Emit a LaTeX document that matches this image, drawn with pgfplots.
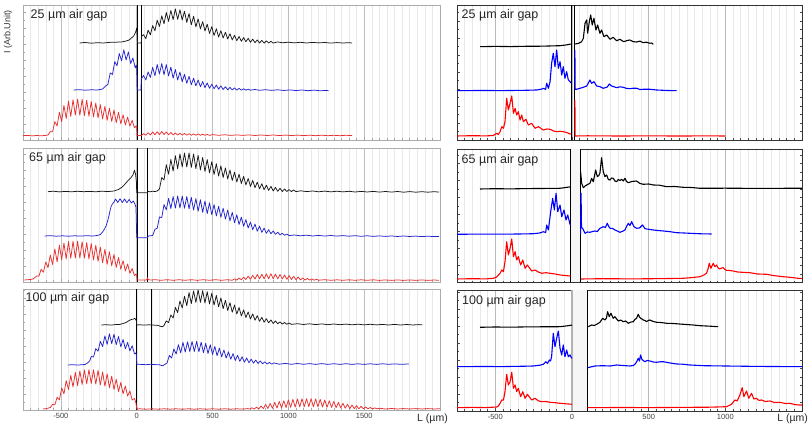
\documentclass[border=0pt]{standalone}
\usepackage{fontspec}
\setmainfont{Liberation Sans}
\usepackage{pgfplots}
\pgfplotsset{compat=1.18}

\definecolor{lred}{RGB}{232,48,48}
\definecolor{lblue}{RGB}{35,35,205}
\definecolor{rred}{RGB}{255,0,0}
\definecolor{rblue}{RGB}{0,0,255}
\newcommand\ticksz{\fontsize{7.5}{9}\selectfont}
\newcommand\gapsz{\fontsize{12.5}{14}\selectfont}

\pgfplotsset{
  lp/.style={scale only axis, width=417pt, xmin=-750, xmax=2000, ymin=0,
    xtick={-500,0,500,1000,1500}, minor xtick={-700,-650,...,1950},
    xmajorgrids, xminorgrids,
    major grid style={gray!50, line width=0.5pt},
    minor grid style={gray!18, line width=0.4pt},
    axis line style={gray!65, line width=0.7pt},
    tick style={gray!70, line width=0.4pt},
    major tick length=2.5pt, minor tick length=1.8pt,
    xtick pos=bottom, ytick pos=left, ytick distance=16, minor y tick num=1,
    xticklabels={}, yticklabels={},
    tick label style={font=\ticksz, text=black!75}},
  rp/.style={scale only axis, width=345pt, xmin=-750, xmax=1500, ymin=0,
    xtick={-500,0,500,1000}, minor xtick={-700,-650,...,1450},
    xmajorgrids, xminorgrids, unbounded coords=jump,
    major grid style={gray!55, line width=1pt},
    minor grid style={gray!18, line width=0.5pt},
    axis line style={black!80, line width=0.9pt},
    tick style={black!70, line width=0.4pt},
    major tick length=2.5pt, minor tick length=1.8pt,
    xtick pos=bottom, ytick pos=both, ytick distance=17, minor y tick num=1,
    xticklabels={}, yticklabels={},
    tick label style={font=\ticksz, text=black!75}},
  lk/.style={black!90, line width=0.75pt, no markers, line join=round},
  lb/.style={lblue, line width=0.75pt, no markers, line join=round},
  lr/.style={lred, line width=0.75pt, no markers, line join=round},
  rk/.style={black, line width=1.1pt, no markers, line join=round},
  rb/.style={rblue, line width=1.1pt, no markers, line join=round},
  rr/.style={rred, line width=1.1pt, no markers, line join=round},
}

\begin{document}
\begin{tikzpicture}
\useasboundingbox (0,0) rectangle (809pt,427pt);

% ---------------- left column ----------------
\begin{axis}[lp, at={(23pt,287pt)}, anchor=south west, height=135pt, ymax=135]
\draw[black, line width=0.8pt] (axis cs:2,0) -- (axis cs:2,135);
\draw[black, line width=0.8pt] (axis cs:32,0) -- (axis cs:32,135);
\addplot[lk] coordinates {(-377,97)(-340,97.5)(-300,96.8)(-260,97.3)(-220,97)(-180,97.6)(-140,97.8)(-100,98)(-70,99)(-50,100)(-35,102)(-20,104)(-10,107)(-3,110)(0,112)(3,104)(5,97)(30,97)(33,104)(45,105.3)(60,101.3)(75,109.8)(90,105.2)(105,114.4)(120,109.3)(135,119.8)(150,113.5)(165,124.2)(180,116.2)(195,127.5)(210,118.6)(225,129.5)(240,120.4)(255,131)(270,120.6)(285,130.3)(300,120)(315,128.8)(330,117.6)(345,126.4)(360,115.3)(375,123.75)(390,113.2)(405,121.1)(420,111.1)(435,118.35)(450,109)(465,115.8)(480,106.6)(495,113.4)(510,104.5)(525,111.25)(540,103)(555,109.25)(570,101.9)(585,107.75)(600,101)(615,106.25)(630,100.1)(645,104.75)(660,99.3)(675,103.5)(690,98.7)(705,102.4)(720,98.2)(735,101.65)(750,97.7)(765,100.9)(780,97.3)(795,100.1)(810,96.95)(825,99.6)(840,96.85)(855,99.15)(870,96.9)(885,98.7)(900,96.9)(930,98.1)(960,97.2)(1000,97.8)(1040,97.1)(1080,97.7)(1120,97.0)(1160,97.6)(1200,97.1)(1240,97.5)(1280,96.9)(1320,97.4)(1360,97.0)(1400,97.3)(1420,97)};
\addplot[lb] coordinates {(-416,50)(-380,50.3)(-340,49.8)(-300,50.2)(-260,50)(-240,50.5)(-225,51)(-215,52.5)(-205,54)(-190,55.5)(-175,67)(-160,65.5)(-145,78.3)(-130,74.2)(-115,86.4)(-100,79.2)(-85,90.2)(-70,80)(-55,88.1)(-40,76.5)(-25,82)(-10,72)(-3,75)(0,72)(3,50)(28,50)(30,61)(45,64.5)(60,60)(75,68)(90,62.6)(105,72.6)(120,64.2)(135,75.5)(150,66)(165,76.4)(180,65.2)(195,75.4)(210,64.1)(225,72.9)(240,61.8)(255,70.45)(270,60)(285,67.95)(300,58.2)(315,65.75)(330,56.7)(345,63.65)(360,55.3)(375,61.7)(390,54.2)(405,59.95)(420,53.2)(435,58.45)(450,52.3)(465,57.05)(480,51.7)(495,55.85)(510,51.2)(525,55)(540,50.8)(555,54.15)(570,50.5)(585,53.25)(600,50.2)(615,52.55)(630,50.1)(645,52)(660,49.95)(675,51.6)(690,49.85)(705,51.2)(720,49.8)(735,50.9)(750,49.8)(780,50.5)(810,49.7)(850,50.3)(890,49.6)(930,50.2)(970,49.5)(1010,50.1)(1050,49.4)(1090,50)(1130,49.3)(1170,49.9)(1210,49.2)(1250,49.6)(1266,49.3)};
\addplot[lr] coordinates {(-752,4.3)(-720,4.6)(-690,4.1)(-660,4.5)(-630,4.2)(-600,4.6)(-585,5)(-570,8.4)(-555,8.2)(-540,18.4)(-525,14)(-510,27.7)(-495,18.3)(-480,34.55)(-465,21.5)(-450,39)(-435,23.6)(-420,40.2)(-405,24.9)(-390,40.9)(-375,24.75)(-360,40.6)(-345,24.4)(-330,39.7)(-315,23.8)(-300,38.5)(-285,23.05)(-270,37)(-255,22.15)(-240,35.4)(-225,21)(-210,33.6)(-195,19.8)(-180,31.8)(-165,18.6)(-150,30)(-135,17.4)(-120,27.6)(-105,16.2)(-90,25.2)(-75,15)(-60,22.8)(-45,13.8)(-30,19.6)(-15,12.2)(-3,14)(0,13)(2,4.3)(30,4.5)(45,6.3)(60,4.8)(75,7.3)(90,5)(105,8.05)(120,5.2)(135,8.3)(150,5.4)(165,8.5)(180,5.45)(195,8.05)(210,5.25)(225,7.45)(240,5.05)(255,7)(270,4.95)(285,6.7)(300,4.85)(315,6.55)(330,4.8)(345,6.3)(360,4.7)(375,6.15)(390,4.75)(405,6)(420,4.7)(435,5.8)(450,4.6)(465,5.6)(480,4.6)(500,5.4)(540,4.7)(580,5.2)(620,4.6)(660,5.1)(700,4.6)(740,5.1)(780,4.5)(820,5)(860,4.5)(900,5)(940,4.4)(980,4.9)(1020,4.4)(1060,4.9)(1100,4.4)(1140,4.8)(1180,4.3)(1220,4.8)(1260,4.3)(1300,4.7)(1340,4.3)(1380,4.7)(1420,4.4)};
\end{axis}

\begin{axis}[lp, at={(23pt,145pt)}, anchor=south west, height=133.5pt, ymax=133.5]
\draw[black, line width=0.8pt] (axis cs:2,0) -- (axis cs:2,133.5);
\draw[black, line width=0.8pt] (axis cs:70,0) -- (axis cs:70,133.5);
\addplot[lk] coordinates {(-586,90.3)(-550,90.8)(-510,90.1)(-470,90.6)(-430,90.2)(-390,90.7)(-350,90.3)(-310,90.6)(-270,90.2)(-230,90.8)(-190,90.4)(-150,91)(-120,92.5)(-100,94.5)(-80,97.5)(-60,101)(-40,104)(-25,107)(-15,111.7)(-8,108)(-2,100)(0,89.3)(70,89.3)(75,90.5)(90,90.2)(105,90.8)(120,90.4)(135,91)(150,93)(165,104.5)(180,102)(195,117.3)(210,107.8)(225,122.5)(240,111)(255,126.3)(270,113.2)(285,128.1)(300,115)(315,129)(330,115)(345,129)(360,114.6)(375,128)(390,113.4)(405,126.65)(420,112)(435,124.55)(450,110.5)(465,122.45)(480,109)(495,120.35)(510,107.5)(525,118.25)(540,106)(555,116.15)(570,104.5)(585,114.05)(600,103)(615,111.95)(630,101.5)(645,109.85)(660,100)(675,107.75)(690,98.5)(705,105.65)(720,97)(735,103.55)(750,95.5)(765,101.6)(780,94.3)(795,99.8)(810,93.2)(825,98.25)(840,92.3)(855,96.8)(870,91.6)(885,95.6)(900,91)(915,94.55)(930,90.7)(945,93.65)(960,90.5)(975,93)(990,90.5)(1005,92.45)(1020,90.4)(1035,91.95)(1050,90.3)(1080,91.2)(1120,90.4)(1160,91)(1200,90.2)(1240,90.9)(1280,90.1)(1320,90.8)(1360,90.1)(1400,90.7)(1440,90)(1480,90.6)(1520,90)(1560,90.6)(1600,89.9)(1640,90.5)(1680,89.9)(1720,90.5)(1760,89.8)(1800,90.4)(1840,89.8)(1880,90.3)(1920,89.8)(1960,90.3)(1994,89.9)};
\addplot[lb] coordinates {(-608,46)(-570,46.3)(-530,45.8)(-490,46.2)(-450,45.8)(-410,46.2)(-370,45.9)(-330,46.3)(-290,46)(-260,46.5)(-240,47.5)(-225,50)(-212,53)(-200,57)(-190,62)(-182,67)(-175,72)(-168,76)(-160,78)(-150,80)(-140,83)(-125,79.5)(-110,83.2)(-95,79.5)(-80,83)(-65,79.3)(-50,82.5)(-35,79)(-22,81)(-12,78)(-5,75)(0,44.3)(72,44.3)(75,46)(90,46.2)(105,46.5)(120,52.7)(135,53.7)(150,65)(165,64.4)(180,77.4)(195,72.2)(210,83.6)(225,73.5)(240,85.4)(255,74)(270,86)(285,74)(300,86)(315,73.7)(330,85.4)(345,73.1)(360,84.6)(375,72)(390,83.4)(405,70.8)(420,82.2)(435,69.6)(450,81)(465,68.4)(480,79.2)(495,67.2)(510,77.4)(525,66)(540,75.6)(555,64.7)(570,73.8)(585,62.9)(600,72)(615,61.1)(630,69.6)(645,59.3)(660,67.2)(675,57.5)(690,64.8)(705,55.7)(720,62.4)(735,53.9)(750,60)(765,52.25)(780,57.9)(795,50.75)(810,55.85)(825,49.6)(840,53.95)(855,48.65)(870,52.4)(885,48.2)(900,51)(915,47.7)(930,49.8)(945,47.1)(960,48.7)(975,46.7)(990,47.9)(1005,46.4)(1040,47)(1080,46.2)(1120,46.8)(1160,46)(1200,46.6)(1240,45.9)(1280,46.5)(1320,45.9)(1360,46.4)(1400,45.8)(1440,46.3)(1480,45.7)(1520,46.2)(1560,45.6)(1600,46.1)(1640,45.6)(1680,46)(1720,45.5)(1760,46)(1800,45.5)(1840,45.9)(1880,45.4)(1920,45.8)(1960,45.4)(1994,45.6)};
\addplot[lr] coordinates {(-741,2)(-720,2.3)(-700,2.5)(-685,3)(-675,4)(-660,6)(-645,5.85)(-630,12.7)(-615,9.75)(-600,20)(-585,14.25)(-570,27)(-555,17.5)(-540,33)(-525,20.1)(-510,36.8)(-495,22.2)(-480,39)(-465,23.05)(-450,40.5)(-435,23.65)(-420,40.8)(-405,23.95)(-390,40.8)(-375,24)(-360,40.2)(-345,23.85)(-330,39.4)(-315,22.95)(-300,38.5)(-285,21.9)(-270,36.7)(-255,20.7)(-240,34.8)(-225,19.25)(-210,32.7)(-195,17.75)(-180,30.2)(-165,16.25)(-150,27.5)(-135,14.6)(-120,24.5)(-105,12.8)(-90,21.35)(-75,10.9)(-60,18)(-45,8.75)(-30,13.5)(-15,6.25)(-5,8)(0,7)(2,2)(65,2)(70,4.3)(75,2.5)(90,2)(120,2.3)(160,1.7)(200,2.3)(240,1.7)(280,2.3)(320,1.7)(360,2.3)(400,1.7)(440,2.3)(480,1.7)(520,2.3)(560,1.7)(600,2.3)(630,1.7)(645,3.15)(660,1.9)(675,3.95)(690,2.2)(705,4.85)(720,2.45)(735,5.8)(750,2.7)(765,6.65)(780,2.95)(795,7.45)(810,3.15)(825,7.8)(840,3.2)(855,8.15)(870,3.25)(885,8.3)(900,3.25)(915,7.9)(930,3.15)(945,7.55)(960,3)(975,7)(990,2.65)(1005,6.4)(1020,2.45)(1035,5.65)(1050,2.3)(1065,4.9)(1080,2.1)(1095,4.1)(1110,1.95)(1125,3.6)(1140,1.85)(1155,3.1)(1170,1.8)(1185,2.7)(1200,1.8)(1240,2.3)(1280,1.7)(1320,2.2)(1360,1.7)(1400,2.2)(1440,1.7)(1480,2.2)(1520,1.7)(1560,2.2)(1600,1.6)(1640,2.1)(1680,1.6)(1720,2.1)(1760,1.6)(1800,2.1)(1840,1.6)(1880,2.1)(1920,1.6)(1960,2)(1994,1.7)};
\end{axis}

\begin{axis}[lp, at={(23pt,17pt)}, anchor=south west, height=121pt, ymax=121,
  xticklabels={-500,0,500,1000,1500}]
\draw[black, line width=0.8pt] (axis cs:0,0) -- (axis cs:0,121);
\draw[black, line width=0.8pt] (axis cs:100,0) -- (axis cs:100,121);
\addplot[lk] coordinates {(-233,85)(-200,85.3)(-170,84.9)(-140,85.4)(-110,85.6)(-90,86.5)(-70,87.5)(-50,89.5)(-35,90.5)(-20,91)(-13,91.7)(-7,90.5)(-2,89)(0,85)(20,85.2)(50,84.9)(80,85.2)(110,84.9)(140,84.6)(160,83.5)(170,83.3)(180,84.5)(195,89)(210,87.4)(225,95)(240,92)(255,102.6)(270,97.45)(285,109)(300,102)(315,113.8)(330,104.4)(345,117.4)(360,106.4)(375,119)(390,107.6)(405,120)(420,107.6)(435,119.3)(450,107)(465,118.25)(480,106.1)(495,116.75)(510,104.9)(525,114.5)(540,103.1)(555,112.1)(570,101.3)(585,109.7)(600,99.5)(615,107.3)(630,97.7)(645,104.9)(660,95.9)(675,102.5)(690,94.1)(705,100.15)(720,92.5)(735,98.05)(750,91)(765,96.1)(780,89.8)(795,94.3)(810,88.7)(825,92.75)(840,87.8)(855,91.3)(870,87.1)(885,90.1)(900,86.5)(915,89.05)(930,86.2)(945,88.15)(960,85.95)(975,87.5)(990,85.7)(1005,87)(1020,85.6)(1060,86.3)(1100,85.5)(1140,86.2)(1180,85.4)(1220,86.1)(1260,85.3)(1300,86)(1340,85.3)(1380,85.9)(1420,85.2)(1460,85.8)(1500,85.1)(1540,85.7)(1580,85.1)(1620,85.6)(1660,85)(1700,85.6)(1740,85)(1780,85.5)(1820,85)(1860,85.4)(1883,85.1)};
\addplot[lb] coordinates {(-454,45)(-420,45.3)(-390,44.9)(-360,45.3)(-340,45.5)(-325,47)(-310,49)(-300,53.5)(-285,53)(-270,61.4)(-255,58.8)(-240,68.7)(-225,63.4)(-210,74)(-195,65.7)(-180,76.2)(-165,66.3)(-150,75.8)(-135,65.2)(-120,73.5)(-105,63.2)(-90,70.5)(-75,61.2)(-60,67.5)(-45,59.1)(-30,64.2)(-15,56.2)(-6,57)(-2,55)(0,45.7)(30,45.6)(60,45.3)(90,45.7)(120,45.4)(150,45.2)(170,44.2)(185,45.5)(200,47)(215,54.5)(230,52)(245,61)(260,56)(275,65.3)(290,57.2)(305,67.6)(320,57.9)(335,68.2)(350,58.5)(365,68.5)(380,58.5)(395,68.5)(410,58.2)(425,67.8)(440,57.3)(455,66.75)(470,56.4)(485,65.25)(500,55.5)(515,63.6)(530,54.3)(545,61.8)(560,53.1)(575,60)(590,51.9)(605,58.2)(620,50.7)(635,56.4)(650,49.5)(665,54.75)(680,48.6)(695,53.2)(710,47.8)(725,52)(740,47.2)(755,50.85)(770,46.8)(785,49.95)(800,46.5)(815,49.05)(830,46.2)(845,48.15)(860,45.95)(875,47.6)(890,45.85)(905,47.1)(940,45.8)(980,46.6)(1020,45.7)(1060,46.5)(1100,45.7)(1140,46.4)(1180,45.6)(1220,46.4)(1260,45.6)(1300,46.3)(1340,45.6)(1380,46.3)(1420,45.6)(1460,46.2)(1500,45.6)(1540,46.2)(1580,45.6)(1620,46.2)(1660,45.7)(1700,46.1)(1740,45.7)(1795,46)};
\addplot[lr] coordinates {(-619,1)(-600,1.3)(-585,1.8)(-570,2.5)(-555,5.7)(-540,5.2)(-525,12.7)(-510,10.2)(-495,21.95)(-480,16.2)(-465,29.35)(-450,20.5)(-435,34.6)(-420,23)(-405,37.75)(-390,24.4)(-375,39)(-360,25.6)(-345,40.05)(-330,26.2)(-315,40.35)(-300,26.5)(-285,40.2)(-270,25.9)(-255,39.6)(-240,25.1)(-225,38)(-210,23.9)(-195,36.1)(-180,22.3)(-165,33.7)(-150,20.5)(-135,30.85)(-120,18.4)(-105,27.55)(-90,16.25)(-75,23.9)(-60,14)(-45,19)(-30,10)(-15,11.5)(-5,7)(0,1)(20,1.2)(60,0.8)(100,1.2)(140,0.8)(180,1.2)(220,0.8)(260,1.2)(300,0.8)(340,1.2)(380,0.8)(420,1.2)(460,0.8)(500,1.2)(540,0.8)(580,1.2)(620,0.8)(660,1.2)(700,0.9)(730,1.4)(745,0.95)(760,2.2)(775,1)(790,2.8)(805,1.05)(820,4)(835,1.35)(850,5.5)(865,1.55)(880,6.6)(895,1.7)(910,7.6)(925,1.95)(940,8.5)(955,2.25)(970,9.25)(985,2.45)(1000,10)(1015,2.7)(1030,10.6)(1045,2.95)(1060,11.05)(1075,3.15)(1090,11.25)(1105,3.3)(1120,11.3)(1135,3.3)(1150,11.3)(1165,3.25)(1180,11)(1195,3.2)(1210,10.6)(1225,3)(1240,10)(1255,2.75)(1270,9.25)(1285,2.6)(1300,8.5)(1315,2.35)(1330,7.6)(1345,2.05)(1360,6.7)(1375,1.75)(1390,5.8)(1405,1.45)(1420,5)(1435,1.35)(1450,4.3)(1465,1.25)(1480,3.65)(1495,1.2)(1510,3)(1525,1.15)(1540,2.5)(1555,1.1)(1570,2.1)(1585,1.1)(1600,1.8)(1640,1)(1680,1.5)(1720,1)(1760,1.4)(1800,1)(1840,1.4)(1880,1)(1920,1.4)(1960,1)(2000,1.3)};
\end{axis}

% ---------------- right column ----------------
\begin{axis}[rp, at={(457pt,287pt)}, anchor=south west, height=135pt, ymax=135]
\draw[black, line width=0.9pt] (axis cs:-5,0) -- (axis cs:-5,135);
\draw[black, line width=0.9pt] (axis cs:18,0) -- (axis cs:18,135);
\addplot[rk] coordinates {(-600,93.3)(-500,93.6)(-400,93.4)(-300,93.7)(-200,93.8)(-78,94.3)(-40,95)(-17,95.7)(-8,95.9)(5,nan)(19,96)(40,96.5)(63,98.3)(74,101.7)(85,116.7)(96,120)(102,106.7)(113,118.3)(122,125)(132,115)(143,121.7)(156,110)(167,115)(182,106.7)(193,110)(208,103.3)(226,105)(248,100.7)(269,102.7)(291,99.3)(313,100.7)(334,98.5)(345,98.7)(360,99.5)(378,100)(400,98.3)(421,98)(443,98.8)(465,97.3)(485,97.8)(508,96.7)(520,97)(530,95.7)};
\addplot[rb] coordinates {(-752,49.3)(-600,49.5)(-450,49.4)(-300,49.7)(-230,50)(-200,50.8)(-187,51.7)(-172,50.6)(-165,56.7)(-154,51.7)(-143,58.3)(-133,76.7)(-122,86.7)(-111,73.3)(-100,90)(-89,71.7)(-78,78.3)(-67,65)(-57,73.3)(-46,61.7)(-35,68.3)(-24,60)(-13,58.3)(-6,57)(5,nan)(19,90)(20,50.7)(30,50.7)(74,52.7)(96,54)(117,60)(128,56.7)(143,58.3)(161,54)(182,53.3)(204,51.7)(230,53)(243,56)(258,54)(291,52.3)(313,53.2)(334,52.7)(356,51.6)(378,51.3)(400,51.8)(421,51.7)(443,50.5)(465,50.7)(508,50.7)(552,50)(620,49.5)(682,49.3)};
\addplot[rr] coordinates {(-752,4)(-650,4.3)(-560,4.1)(-513,4.5)(-491,6.7)(-480,5.5)(-469,8.3)(-458,13.3)(-447,11.7)(-437,18.3)(-426,41.7)(-415,30)(-404,36.7)(-393,44)(-382,26.7)(-371,31.7)(-361,25)(-350,28.3)(-339,20)(-328,25)(-317,18.3)(-300,20.7)(-285,15)(-263,16.7)(-241,11.7)(-219,13.3)(-187,10)(-165,11)(-143,10.7)(-120,9)(-100,8.3)(-78,8.7)(-57,8.3)(-35,7.5)(-13,6)(-6,6.2)(5,nan)(19,40)(20,4)(100,4.2)(300,4)(500,4.1)(700,4)(900,4.1)(1000,4)};
\end{axis}

\begin{axis}[rp, at={(457pt,144.5pt)}, anchor=south west, height=133.5pt, ymax=133.5]
\fill[gray!7] (axis cs:-8,0) rectangle (axis cs:56,133.5);
\draw[black, line width=0.9pt] (axis cs:-8,0) -- (axis cs:-8,133.5);
\draw[black, line width=0.9pt] (axis cs:56,0) -- (axis cs:56,133.5);
\addplot[rk] coordinates {(-600,93.5)(-500,93.8)(-400,93.6)(-300,93.9)(-200,94)(-78,94.2)(-40,95)(-17,95.5)(-10,95.8)(20,nan)(56,110.8)(63,99.2)(74,94.8)(85,96.5)(96,97.5)(117,99.2)(128,104.2)(139,100.8)(154,112.5)(165,105.8)(175,107)(182,109.2)(193,124.8)(204,110.8)(215,105.8)(226,107.5)(237,103)(248,102.5)(258,104.5)(269,104.2)(280,101.5)(291,100.8)(302,103)(313,102)(324,103.2)(335,101.5)(345,104.2)(356,101)(367,99.8)(390,101)(421,101.5)(443,99)(465,98.2)(500,98.5)(530,97.5)(570,97.3)(617,95.8)(670,96)(725,95.2)(780,95)(834,94.2)(1000,94.3)(1200,94.1)(1400,94.2)(1500,94.2)};
\addplot[rb] coordinates {(-752,48.2)(-600,48.4)(-450,48.3)(-300,48.6)(-252,48.8)(-210,49.5)(-187,50.8)(-172,50)(-165,57.5)(-154,52.5)(-139,70.8)(-126,84.2)(-115,72.5)(-104,89.2)(-93,70.8)(-78,77.5)(-67,65.8)(-52,72.5)(-39,62.5)(-28,67.5)(-13,58.2)(-10,57.5)(20,nan)(56,48)(59,89.2)(62,55)(69,54.2)(85,49.2)(100,50.5)(117,50.2)(135,51)(150,51.5)(165,51)(182,54.2)(204,55.8)(218,55)(230,59.2)(240,56)(248,54.2)(265,54)(280,52.5)(295,51.5)(313,50.2)(330,51.2)(345,52.5)(356,56)(367,59.2)(378,57)(389,60.8)(404,55.8)(421,54.2)(440,54.5)(460,57.5)(475,54)(486,53.5)(510,53)(530,52.5)(560,52)(595,51.5)(640,50.8)(682,49.8)(730,49.5)(769,49.2)(840,48.7)(910,48.5)};
\addplot[rr] coordinates {(-752,3.5)(-650,3.8)(-560,3.6)(-513,4.2)(-491,5.5)(-469,9.2)(-458,12.5)(-447,10.8)(-437,20.8)(-426,40.8)(-415,27.5)(-404,34.2)(-393,43.5)(-382,25.8)(-371,30.8)(-361,22.5)(-350,25.8)(-335,17.5)(-321,22.5)(-306,14.2)(-291,17.5)(-263,11.5)(-241,12.5)(-220,10.5)(-198,9.2)(-170,9.8)(-143,9.2)(-110,8.5)(-78,7.5)(-45,7)(-13,6.5)(-10,6.3)(20,nan)(59,3.5)(200,3.8)(400,3.6)(600,3.9)(725,4.2)(790,5)(834,5.8)(860,7.5)(877,9.2)(888,14)(895,19.2)(906,14.2)(914,17)(921,19.2)(932,15.8)(943,17.5)(953,14.5)(964,13.5)(975,14.5)(986,14.8)(997,13)(1008,12.2)(1030,12)(1051,11.5)(1080,10.5)(1110,10.2)(1160,9.8)(1210,8.5)(1268,8.2)(1320,6.8)(1377,5.8)(1420,5.2)(1475,4.2)(1500,4)};
\end{axis}

\begin{axis}[rp, at={(457pt,16pt)}, anchor=south west, height=121pt, ymax=121,
  xticklabels={-500,0,500,1000}]
\fill[gray!7] (axis cs:0,0) rectangle (axis cs:100,121);
\draw[gray!60, line width=1.2pt] (axis cs:0,0) -- (axis cs:0,121);
\draw[black, line width=0.9pt] (axis cs:100,0) -- (axis cs:100,121);
\addplot[rk] coordinates {(-600,83.7)(-500,84)(-400,83.8)(-300,84.1)(-200,84.2)(-78,84.3)(-40,85)(-10,85.6)(0,86)(50,nan)(106,84.3)(128,86)(145,85.5)(161,86.7)(182,88.7)(200,92.7)(215,91)(225,93)(232,99.3)(243,94.3)(254,97.7)(262,95)(269,92.7)(280,94.3)(291,92)(302,90)(318,91)(334,89.3)(350,90)(367,87.7)(385,89)(400,89.3)(410,91.5)(421,92.7)(432,96.7)(440,94)(447,92.7)(456,92)(465,91)(476,90.5)(486,89.3)(497,90.5)(508,91)(530,89.5)(552,88.7)(580,88.5)(617,87.7)(660,87.5)(700,87)(725,86.7)(790,86)(834,85.3)(900,84.8)(953,84.3)};
\addplot[rb] coordinates {(-752,44.3)(-600,44.5)(-450,44.4)(-300,44.8)(-252,45)(-210,45.8)(-187,46.7)(-170,49.3)(-160,47.5)(-148,51)(-140,50)(-133,54.3)(-122,77.7)(-111,64.3)(-100,72.7)(-89,80)(-78,62.7)(-67,56)(-57,66)(-46,54.3)(-35,61)(-24,54.3)(-13,56)(-5,53.5)(0,52.7)(50,nan)(102,43.3)(150,45)(200,45.3)(248,45)(291,46)(330,45.5)(378,45)(400,45.5)(410,46.7)(421,49)(432,52.7)(440,50)(447,56)(455,52)(460,51)(476,49.3)(490,50.5)(508,50)(530,49)(552,48.7)(575,49.2)(595,49.3)(640,48)(682,47)(720,46.8)(769,46)(856,45.3)(1000,45)(1200,44.6)(1500,44.3)};
\addplot[rr] coordinates {(-752,3.3)(-650,3.6)(-560,3.4)(-491,4)(-480,5)(-469,7.7)(-458,11)(-447,11)(-437,19.3)(-426,36.7)(-415,26)(-404,29.3)(-393,38.7)(-382,22.7)(-371,26)(-361,19.3)(-350,22.7)(-335,14.3)(-321,19.3)(-306,12.7)(-291,16.7)(-263,11)(-241,12.7)(-220,10.2)(-198,9.3)(-170,9.5)(-143,8.7)(-110,8.3)(-78,7.7)(-40,7.2)(0,6.7)(50,nan)(102,3.3)(300,3.5)(500,3.4)(700,3.6)(900,3.8)(1008,4.3)(1040,6.7)(1062,11)(1077,10)(1095,16)(1110,23.3)(1121,14.3)(1138,20)(1153,12.7)(1171,17.7)(1186,12)(1203,12.7)(1220,10.5)(1236,11)(1260,9.5)(1290,10)(1320,8.5)(1355,8.7)(1390,7.5)(1421,7.7)(1450,6.5)(1480,6)(1500,6)};
\end{axis}

% ---------------- texts ----------------
\node[anchor=west, inner sep=0pt, font=\gapsz, text=black!85] at (30.5pt,412pt) {25 µm air gap};
\node[anchor=west, inner sep=0pt, font=\gapsz, text=black!85] at (29pt,268.7pt) {65 µm air gap};
\node[anchor=west, inner sep=0pt, font=\gapsz, text=black!85] at (25.5pt,128.7pt) {100 µm air gap};
\node[anchor=west, inner sep=0pt, font=\gapsz, text=black!85] at (461.5pt,412pt) {25 µm air gap};
\node[anchor=west, inner sep=0pt, font=\gapsz, text=black!85] at (461.5pt,267pt) {65 µm air gap};
\node[anchor=west, inner sep=0pt, font=\gapsz, text=black!85] at (462pt,125.3pt) {100 µm air gap};
\node[rotate=90, inner sep=0pt, font=\fontsize{9}{10}\selectfont, text=black!80] at (8pt,395pt) {I (Arb.Unit)};
\node[inner sep=0pt, font=\fontsize{10.5}{12}\selectfont, text=black!85] at (432.5pt,8.7pt) {L (µm)};
\node[anchor=east, inner sep=0pt, font=\fontsize{10.5}{12}\selectfont, text=black!85] at (808pt,8pt) {L (µm)};
\end{tikzpicture}
\end{document}
